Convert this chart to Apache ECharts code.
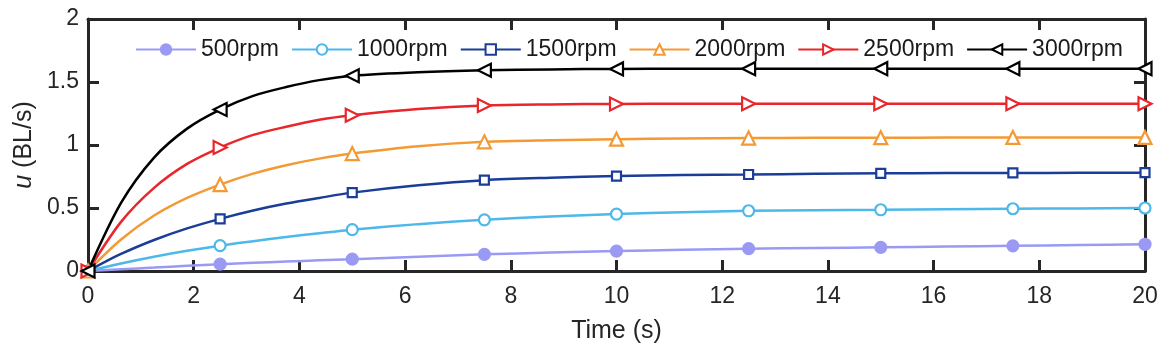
<!DOCTYPE html>
<html>
<head>
<meta charset="utf-8">
<script src="https://cdn.jsdelivr.net/npm/echarts@6/dist/echarts.min.js"></script>
<style>
html,body{margin:0;padding:0;background:#fff;}
#chart{width:1169px;height:358px;}
</style>
</head>
<body>
<div id="chart"></div>
<script>
// Time (s)
var times = [0, 0.625, 1.25, 1.875, 2.5, 3.125, 3.75, 4.375, 5, 6.25, 7.5, 8.75, 10, 11.25, 12.5, 13.75, 15, 16.25, 17.5, 18.75, 20];
// u (BL/s) per rotation speed
var u500  = [0, 0.0135, 0.027, 0.041, 0.054, 0.065, 0.075, 0.085, 0.094, 0.114, 0.132, 0.146, 0.158, 0.168, 0.177, 0.183, 0.188, 0.194, 0.200, 0.206, 0.212];
var u1000 = [0, 0.060, 0.113, 0.160, 0.201, 0.237, 0.270, 0.300, 0.328, 0.372, 0.406, 0.432, 0.452, 0.467, 0.478, 0.483, 0.486, 0.490, 0.494, 0.497, 0.500];
var u1500 = [0, 0.135, 0.246, 0.338, 0.414, 0.480, 0.535, 0.580, 0.622, 0.680, 0.721, 0.740, 0.753, 0.761, 0.766, 0.771, 0.775, 0.777, 0.778, 0.779, 0.780];
var u2000 = [0, 0.250, 0.440, 0.580, 0.686, 0.773, 0.840, 0.892, 0.932, 0.990, 1.025, 1.038, 1.046, 1.052, 1.055, 1.057, 1.058, 1.059, 1.060, 1.060, 1.060];
var u2500 = [0, 0.390, 0.660, 0.850, 0.980, 1.080, 1.145, 1.200, 1.236, 1.285, 1.313, 1.322, 1.326, 1.327, 1.328, 1.328, 1.328, 1.328, 1.328, 1.328, 1.328];
var u3000 = [0, 0.540, 0.900, 1.130, 1.281, 1.390, 1.460, 1.515, 1.550, 1.578, 1.593, 1.600, 1.604, 1.606, 1.606, 1.606, 1.606, 1.606, 1.606, 1.606, 1.606];
var seriesNames = ['500rpm', '1000rpm', '1500rpm', '2000rpm', '2500rpm', '3000rpm'];
var xTicks = [0, 2, 4, 6, 8, 10, 12, 14, 16, 18, 20];
var yTicks = [0, 0.5, 1, 1.5, 2];
var markerStep = 2.5;

var FONT = '"Liberation Sans", Arial, sans-serif';
var AX = '#262626';

var styles = [
  {color: '#9a9af5', symbol: 'circle', size: 11, fill: '#9a9af5', rot: 0},
  {color: '#4db8ea', symbol: 'circle', size: 11, fill: '#ffffff', rot: 0},
  {color: '#1a3e98', symbol: 'rect', size: 9, fill: '#ffffff', rot: 0},
  {color: '#f39a35', symbol: 'triangle', size: 13, fill: '#ffffff', rot: 0},
  {color: '#e8262b', symbol: 'triangle', size: 13, fill: '#ffffff', rot: -90},
  {color: '#000000', symbol: 'triangle', size: 13, fill: '#ffffff', rot: 90}
];
var values = [u500, u1000, u1500, u2000, u2500, u3000];

function build(vals) {
  return times.map(function (t, i) {
    var item = {value: [t, vals[i]]};
    if (Math.abs(t / markerStep - Math.round(t / markerStep)) > 1e-9) item.symbol = 'none';
    return item;
  });
}

var series = values.map(function (vals, k) {
  var s = styles[k];
  return {
    name: seriesNames[k],
    type: 'line',
    data: build(vals),
    smooth: 0.3,
    clip: false,
    symbol: s.symbol,
    symbolSize: s.size,
    symbolRotate: s.rot,
    showAllSymbol: true,
    lineStyle: {color: s.color, width: 2.5},
    itemStyle: {color: s.fill, borderColor: s.color, borderWidth: 2.2},
    emphasis: {disabled: true},
    animation: false,
    z: 3
  };
});

var chart = echarts.init(document.getElementById('chart'), null, {renderer: 'canvas'});
chart.setOption({
  backgroundColor: '#ffffff',
  animation: false,
  textStyle: {fontFamily: FONT},
  grid: {left: 88, right: 24, top: 19, bottom: 87, containLabel: false},
  legend: {
    left: 130, top: 33,
    itemWidth: 60, itemHeight: 13, itemGap: 12,
    textStyle: {fontFamily: FONT, fontSize: 23, color: '#1a1a1a'},
    data: seriesNames
  },
  xAxis: [{
    type: 'value', min: xTicks[0], max: xTicks[xTicks.length - 1], interval: 2,
    position: 'bottom',
    name: 'Time (s)', nameLocation: 'middle', nameGap: 48,
    nameTextStyle: {fontFamily: FONT, fontSize: 25, color: AX},
    axisLine: {show: true, onZero: false, lineStyle: {color: AX, width: 3}},
    axisTick: {show: true, inside: true, length: 11, lineStyle: {color: AX, width: 3}},
    axisLabel: {fontFamily: FONT, fontSize: 23, color: AX, margin: 14},
    splitLine: {show: false}
  }, {
    type: 'value', min: xTicks[0], max: xTicks[xTicks.length - 1], interval: 2,
    position: 'top',
    axisLine: {show: true, onZero: false, lineStyle: {color: AX, width: 3}},
    axisTick: {show: true, inside: true, length: 11, lineStyle: {color: AX, width: 3}},
    axisLabel: {show: false},
    splitLine: {show: false}
  }],
  yAxis: [{
    type: 'value', min: yTicks[0], max: yTicks[yTicks.length - 1], interval: 0.5,
    position: 'left',
    name: '{i|u} (BL/s)', nameLocation: 'middle', nameGap: 47, nameRotate: 90,
    nameTextStyle: {fontFamily: FONT, fontSize: 25, color: AX,
      rich: {i: {fontFamily: FONT, fontSize: 25, fontStyle: 'italic', color: AX}}},
    axisLine: {show: true, onZero: false, lineStyle: {color: AX, width: 3}},
    axisTick: {show: true, inside: true, length: 11, lineStyle: {color: AX, width: 3}},
    axisLabel: {fontFamily: FONT, fontSize: 23, color: AX, margin: 9},
    splitLine: {show: false}
  }, {
    type: 'value', min: yTicks[0], max: yTicks[yTicks.length - 1], interval: 0.5,
    position: 'right',
    axisLine: {show: true, onZero: false, lineStyle: {color: AX, width: 3}},
    axisTick: {show: true, inside: true, length: 11, lineStyle: {color: AX, width: 3}},
    axisLabel: {show: false},
    splitLine: {show: false}
  }],
  series: series
});
</script>
</body>
</html>
